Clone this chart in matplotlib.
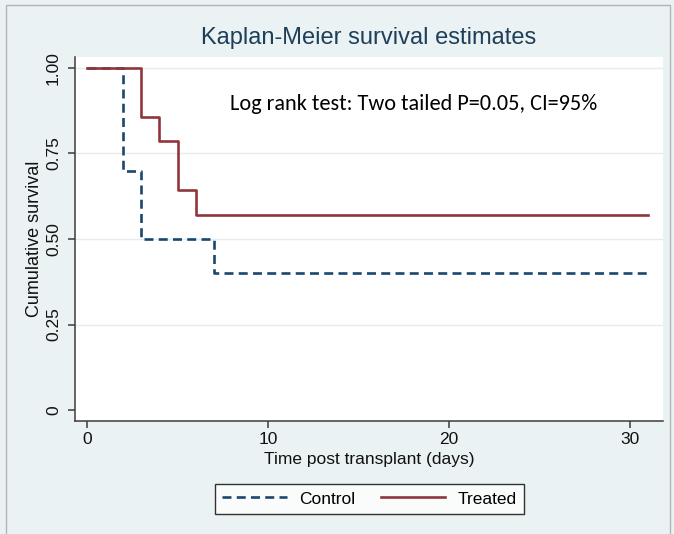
import matplotlib
matplotlib.use("Agg")
import matplotlib.pyplot as plt
from matplotlib.patches import Rectangle
from matplotlib import font_manager

# ---- data ----
control_time = [0, 2, 3, 7, 31]
control_surv = [1.0, 0.7, 0.5, 0.4, 0.4]
treated_time = [0, 3, 4, 5, 6, 31]
treated_surv = [1.0, 0.857, 0.786, 0.643, 0.571, 0.571]
x_ticks = [0, 10, 20, 30]
y_ticks = [0, 0.25, 0.5, 0.75, 1.0]
y_ticklabels = ["0", "0.25", "0.50", "0.75", "1.00"]
series_labels = ["Control", "Treated"]
title = "Kaplan-Meier survival estimates"
annotation = "Log rank test: Two tailed P=0.05, CI=95%"
xlabel = "Time post transplant (days)"
ylabel = "Cumulative survival"

names = {f.name for f in font_manager.fontManager.ttflist}
narrow = ["Liberation Sans Narrow", "DejaVu Sans"] if "Liberation Sans Narrow" in names else ["Liberation Sans", "DejaVu Sans"]
regular = ["Liberation Sans", "DejaVu Sans"]
calibri_like = ["Carlito", "Lato", "DejaVu Sans"] if "Carlito" in names else ["Lato", "DejaVu Sans"]

BG = "#eaf2f3"
NAVY = "#1a476f"
MAROON = "#90353b"
W, H = 674, 534

fig = plt.figure(figsize=(W / 100, H / 100), dpi=100)
fig.patch.set_facecolor(BG)
fig.patches.append(Rectangle((6 / W, -0.05), (670 - 6) / W, 1 - 5 / H + 0.05,
                             transform=fig.transFigure, fill=False,
                             edgecolor="#b4b4b4", linewidth=1.0))

left, right, top, bottom = 75, 663, 57, 421
ax = fig.add_axes([left / W, 1 - bottom / H, (right - left) / W, (bottom - top) / H])
ax.set_facecolor("white")

ax.step(control_time, control_surv, where="post", color=NAVY, lw=1.9,
        linestyle=(0, (3.4, 2.0)), label=series_labels[0])
ax.step(treated_time, treated_surv, where="post", color=MAROON, lw=1.9,
        label=series_labels[1])

ax.set_xlim(-0.663, 31.82)
ax.set_ylim(-0.032, 1.032)

for yv in y_ticks[1:]:
    ax.axhline(yv, color="#e4ecef", lw=1.0, zorder=0)

for s in ["top", "right"]:
    ax.spines[s].set_visible(False)
for s in ["left", "bottom"]:
    ax.spines[s].set_color("#3c3c3c")
    ax.spines[s].set_linewidth(1.1)

ax.set_xticks(x_ticks)
ax.set_xticklabels([str(v) for v in x_ticks], fontfamily=narrow, fontsize=12.5, color="#111111")
ax.set_yticks(y_ticks)
ax.set_yticklabels(y_ticklabels, fontfamily=narrow, fontsize=12.5, color="#111111",
                   rotation=90, va="center")
ax.tick_params(axis="x", direction="out", length=5, width=1.1, color="#3c3c3c", pad=3)
ax.tick_params(axis="y", direction="out", length=5, width=1.1, color="#3c3c3c", pad=5)

ax.set_xlabel(xlabel, fontfamily=narrow, fontsize=12.5, color="#111111")
ax.set_ylabel(ylabel, fontfamily=narrow, fontsize=13, color="#111111")
ax.xaxis.set_label_coords(0.5, (421 - 452) / 364)
ax.yaxis.set_label_coords((43 - 75) / 588, 0.5)

fig.text(369 / W, 1 - 38 / H, title, ha="center", va="center",
         fontfamily=regular, fontsize=17, color="#1e3f5a")
fig.text(414 / W, 1 - 104 / H, annotation, ha="center", va="center",
         fontfamily=calibri_like, fontsize=16, color="#000000")

leg = fig.legend(loc="center", bbox_to_anchor=(369.5 / W, 1 - 499 / H), ncol=2,
                 frameon=True, fancybox=False, edgecolor="#000000",
                 prop={"family": narrow, "size": 12.5}, handlelength=3.7,
                 columnspacing=1.5, handletextpad=0.7, borderpad=0.45, borderaxespad=0)
leg.get_frame().set_linewidth(1.0)
leg.get_frame().set_facecolor("white")

fig.savefig("out.png", dpi=100, facecolor=BG)
